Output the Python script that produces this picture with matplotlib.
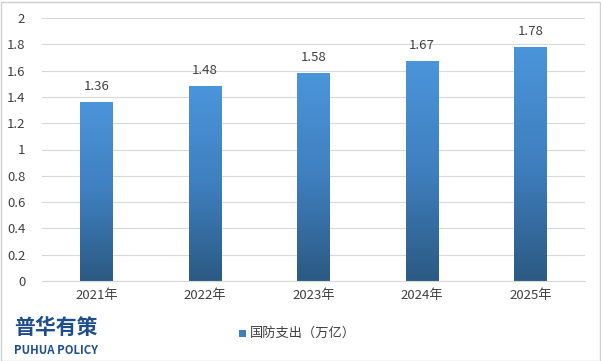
import numpy as np
import matplotlib.pyplot as plt
from matplotlib.colors import LinearSegmentedColormap
from matplotlib.patches import Rectangle

plt.rcParams['font.family'] = ['Noto Sans CJK SC', 'DejaVu Sans']

years = ['2021年', '2022年', '2023年', '2024年', '2025年']
values = [1.36, 1.48, 1.58, 1.67, 1.78]
legend_label = '国防支出（万亿）'

fig = plt.figure(figsize=(6.01, 3.61), dpi=100)
ax = fig.add_axes([42/601, 80/361, 543/601, 263/361])

x = np.arange(len(years))
bw = 0.3
cmap = LinearSegmentedColormap.from_list('g', ['#2b5a83', '#3f7fbf', '#4b95da'])
grad = np.linspace(0, 1, 256).reshape(-1, 1)
bars = ax.bar(x, values, width=bw, color='none', zorder=2)
for b in bars:
    x0, y0 = b.get_x(), b.get_y()
    w, h = b.get_width(), b.get_height()
    im = ax.imshow(grad, extent=[x0, x0 + w, 0, h], origin='lower', cmap=cmap,
                   aspect='auto', zorder=2)
    im.set_clip_path(Rectangle((x0, y0), w, h, transform=ax.transData))
    ax.text(x0 + w / 2, h + 0.07, f'{h:.2f}', ha='center', va='bottom',
            fontsize=9.5, color='#404040')

ax.set_xlim(-0.5, len(years) - 0.5)
ax.set_ylim(0, 2)
ax.set_yticks(np.arange(0, 2.01, 0.2))
ax.set_yticklabels(['0', '0.2', '0.4', '0.6', '0.8', '1', '1.2', '1.4', '1.6', '1.8', '2'])
ax.set_xticks(x)
ax.set_xticklabels(years)
ax.tick_params(length=0, labelsize=9.5, colors='#404040', pad=6)
ax.tick_params(axis='y', pad=12)
ax.grid(axis='y', color='#d9d9d9', linewidth=0.8, zorder=0)
ax.set_axisbelow(True)
for s in ['top', 'right', 'left']:
    ax.spines[s].set_visible(False)
ax.spines['bottom'].set_color('#d9d9d9')

fig.patches.append(Rectangle((0.5/601, 0.5/361), 599/601, 359/361, transform=fig.transFigure,
                             fill=False, edgecolor='#d0d0d0', linewidth=1))

fig.patches.append(Rectangle((239/601, 24/361), 7/601, 7/361, transform=fig.transFigure,
                             facecolor='#3f7fbf', edgecolor='none'))
fig.text(250/601, 27.5/361, legend_label, fontsize=9.5, color='#404040', va='center')

fig.text(14/601, 34/361, '普华有策', fontsize=15, fontweight='bold', color='#1f4e8c', va='center')
fig.text(14/601, 10/361, 'PUHUA POLICY', fontsize=8.2, color='#1f4e8c', va='center',
         fontfamily='Noto Sans CJK SC', fontweight='bold')

fig.savefig('out.png', dpi=100)
